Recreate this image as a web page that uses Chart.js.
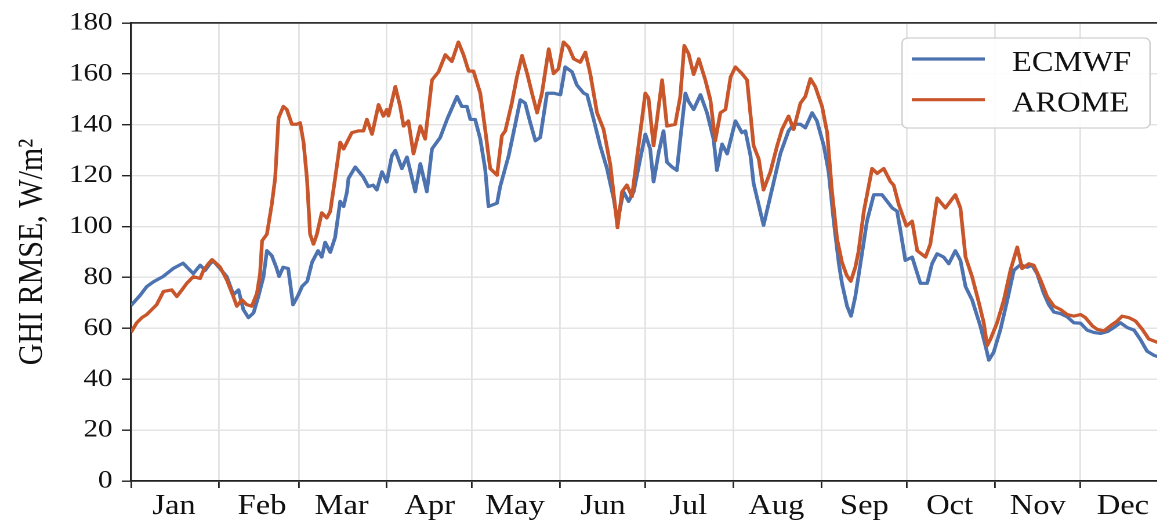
<!DOCTYPE html>
<html>
<head>
<meta charset="utf-8">
<script src="https://cdn.jsdelivr.net/npm/chart.js@4.4.1/dist/chart.umd.min.js"></script>
<style>
  html, body { margin: 0; padding: 0; background: #fff; overflow: hidden; width: 1157px; height: 521px; }
  #wrap { position: absolute; left: 0; top: 0; width: 1007px; height: 521px; transform: scaleX(1.16); transform-origin: 0 0; }
</style>
</head>
<body>
<div id="wrap"><canvas id="chart" width="1007" height="521"></canvas></div>
<script>
// Month tick labels and the day-of-year where each month starts
const months = ['Jan', 'Feb', 'Mar', 'Apr', 'May', 'Jun', 'Jul', 'Aug', 'Sep', 'Oct', 'Nov', 'Dec'];
const monthStartDays = [0, 31, 59, 90, 120, 151, 181, 212, 243, 273, 304, 334];

// Y axis ticks
const yTicks = [0, 20, 40, 60, 80, 100, 120, 140, 160, 180];

// ECMWF: day of year and GHI RMSE (W/m²)
const ecmwfDays = [
  0, 3.2, 5.5, 7.9, 11.3, 14.8, 18.3, 21.9, 24.3, 26.1,
  27.8, 28.9, 31.3, 33.7, 36.0, 37.8, 39.5, 41.3, 43.1, 44.8,
  46.6, 47.8, 49.5, 51.1, 52.1, 53.5, 55.3, 57.0, 58.8, 60.2,
  62.0, 63.7, 65.8, 67.1, 68.3, 70.1, 71.8, 73.6, 74.8, 76.0,
  76.5, 78.9, 79.9, 81.7, 83.5, 85.2, 86.5, 88.3, 90.0, 91.8,
  93.0, 95.3, 97.1, 100.0, 101.8, 104.1, 105.9, 108.8, 111.2, 114.7,
  116.4, 118.2, 119.4, 121.1, 122.9, 124.6, 125.8, 128.8, 129.9, 132.9,
  134.6, 137.0, 138.7, 140.5, 142.3, 144.0, 146.4, 148.7, 151.1, 152.8,
  155.2, 156.9, 159.3, 160.5, 162.8, 165.1, 167.5, 169.8, 171.2, 173.3,
  175.1, 176.9, 179.2, 181.0, 182.7, 183.9, 185.7, 187.4, 188.6, 190.4,
  192.1, 193.3, 195.1, 196.2, 198.0, 200.4, 202.7, 205.0, 206.2, 208.0,
  209.8, 212.7, 215.0, 216.2, 218.0, 219.1, 222.6, 226.2, 228.5, 231.4,
  233.2, 235.6, 237.3, 239.7, 241.4, 243.8, 245.5, 247.3, 249.1, 250.2,
  252.0, 253.4, 254.9, 256.7, 259.0, 261.4, 264.3, 267.9, 269.6, 270.8,
  272.5, 274.9, 277.8, 280.2, 281.9, 283.7, 286.0, 287.8, 290.1, 291.9,
  293.7, 296.0, 298.9, 300.7, 301.9, 303.6, 306.0, 308.3, 310.7, 313.0,
  315.4, 317.1, 318.9, 321.2, 323.0, 324.8, 327.1, 329.5, 331.8, 334.2,
  336.5, 338.8, 341.2, 343.6, 345.9, 348.2, 350.6, 353.0, 355.3, 357.6,
  360.0, 362.3
];
const ecmwfRmse = [
  69, 73, 76.4, 78.3, 80.4, 83.5, 85.6, 81.5, 84.8, 82.8,
  85.4, 86.5, 83.5, 80.3, 73.2, 75.1, 67.4, 64.2, 66.1, 72.5,
  80.3, 90.5, 88.6, 84, 80.4, 84, 83.5, 69.3, 73, 76.5,
  78.5, 86, 90.5, 88, 93.8, 89.9, 95.7, 109.9, 107.9, 113.7,
  118.9, 123.4, 122, 119.5, 115.7, 116.3, 114.4, 121.5, 117.5, 127.9,
  129.9, 122.8, 127.3, 113.7, 124.7, 113.7, 130.5, 135, 142.1, 151.1,
  147.2, 147.2, 142.1, 142.1, 134.4, 122.8, 107.9, 109.2, 115.7, 127.9,
  136.9, 149.8, 148.5, 140.8, 133.7, 135, 152.4, 152.4, 151.8, 162.7,
  160.8, 155.6, 152.4, 151.8, 142.1, 131.8, 122.8, 111.2, 102.1, 113.7,
  109.9, 113.7, 126.6, 136.3, 130.5, 117.6, 129.2, 137.6, 125.3, 123.4,
  122.1, 134.4, 152.4, 149.2, 146, 151.8, 144.7, 134.4, 122.1, 132.4,
  128.6, 141.5, 136.9, 137.6, 127.9, 117, 100.5, 117.6, 128.6, 137.6,
  140.2, 140.2, 138.8, 144.7, 141.5, 131.8, 121.5, 102.1, 85.4, 77.7,
  68.7, 64.8, 72.5, 85.4, 102.1, 112.5, 112.5, 107.3, 106, 98.3,
  86.7, 88, 77.7, 77.7, 85.4, 89.3, 88, 85.4, 90.5, 86.7,
  76.4, 71.2, 60.9, 53.2, 47.5, 50.6, 59.6, 70.6, 82.8, 85,
  84, 84.8, 81.5, 73.8, 69.3, 66.4, 65.8, 64.5, 62.2, 62,
  59.3, 58.4, 58, 58.7, 60.3, 62.2, 60.3, 59.3, 55.5, 51,
  49.4, 48.5
];

// AROME: day of year and GHI RMSE (W/m²)
const aromeDays = [
  0, 2.0, 3.8, 5.5, 7.3, 9.0, 11.4, 14.3, 16.1, 17.9,
  19.6, 21.9, 24.3, 25.5, 27.2, 28.5, 31.3, 33.7, 36.0, 37.2,
  39.0, 40.7, 42.5, 44.3, 45.4, 46.1, 47.8, 49.5, 50.7, 51.9,
  53.6, 54.8, 56.6, 58.3, 59.5, 60.7, 61.9, 63.0, 64.2, 65.4,
  67.1, 68.9, 70.1, 71.8, 73.6, 74.8, 77.7, 80.0, 81.8, 83.0,
  84.8, 87.1, 88.8, 90.0, 90.6, 93.0, 94.7, 95.9, 97.6, 99.4,
  101.8, 103.5, 105.9, 108.2, 110.6, 112.9, 115.2, 117.0, 118.8, 120.5,
  122.9, 124.6, 126.4, 128.8, 130.5, 131.7, 134.0, 135.8, 137.6, 139.4,
  141.1, 142.9, 144.6, 147.0, 148.7, 150.4, 152.2, 154.0, 155.8, 158.1,
  159.9, 161.6, 164.0, 166.3, 168.7, 171.2, 172.8, 174.5, 176.3, 178.6,
  181.0, 182.1, 183.9, 186.9, 188.6, 191.5, 193.3, 194.7, 196.2, 198.0,
  199.8, 202.1, 203.9, 205.6, 207.4, 209.2, 211.0, 212.7, 215.0, 216.8,
  219.1, 220.9, 222.6, 225.0, 227.4, 229.1, 231.4, 233.2, 235.6, 237.3,
  239.1, 240.8, 243.2, 245.0, 246.7, 248.5, 250.2, 251.8, 253.3, 254.9,
  256.0, 257.9, 260.8, 262.6, 264.9, 267.3, 268.4, 270.2, 272.9, 274.9,
  276.7, 279.6, 281.3, 283.7, 286.6, 290.1, 291.9, 293.7, 296.0, 298.4,
  300.1, 301.3, 302.5, 304.8, 307.2, 309.5, 311.9, 313.6, 316.0, 317.7,
  320.1, 322.4, 324.8, 327.1, 329.5, 331.8, 334.2, 335.9, 338.3, 340.0,
  342.4, 344.7, 347.1, 348.8, 351.2, 353.5, 355.9, 358.2, 361.2, 363.0
];
const aromeRmse = [
  58.5, 62.2, 64.2, 65.4, 67.4, 69.3, 74.5, 75.1, 72.5, 75.1,
  77.7, 80.3, 79.6, 82.8, 85.4, 87, 84.1, 79, 72.5, 68.7,
  71.2, 69.3, 68.7, 73.8, 81.5, 94.4, 97, 108.6, 118.9, 142.7,
  147.2, 146, 140.2, 140.2, 140.8, 133.1, 118.9, 97, 93.1, 97,
  105.4, 103.4, 106, 118.9, 133.1, 130.5, 136.9, 137.6, 137.6, 142.1,
  136.3, 147.9, 143.4, 146, 143.5, 155, 147.2, 139.5, 141.5, 128.6,
  139.5, 134.4, 157.6, 160.8, 167.5, 164.9, 172.5, 167.5, 161.1, 161.1,
  152.4, 138.3, 122.8, 120.2, 135.7, 137.6, 148.5, 158.8, 167.2, 160.1,
  152.4, 144.7, 152.4, 169.8, 160.1, 162, 172.5, 170.5, 165.9, 164.6,
  168.5, 160.1, 144.7, 138.2, 124.1, 99.6, 113.7, 116.3, 111.8, 131.8,
  152.4, 150.5, 131.8, 157.6, 139.5, 140.2, 151.1, 171.1, 168, 159.8,
  165.9, 157.6, 149.8, 133.7, 144.7, 146, 158.8, 162.7, 160.1, 157.6,
  131.8, 126.6, 114.4, 121.5, 131.8, 138.2, 143.4, 138.2, 148.5, 151.1,
  158.1, 155, 147.2, 136.9, 113.7, 95, 86, 81, 78.5, 84,
  90, 106, 122.8, 120.9, 122.8, 117.6, 116.3, 108.6, 100.2, 102.1,
  90.5, 88, 93.1, 111.2, 107.3, 112.5, 107.3, 88, 80.3, 70,
  62.2, 53.2, 55.8, 62.2, 71.2, 82.8, 91.9, 83.5, 85.4, 84.8,
  79, 72.5, 68.7, 67.4, 65.4, 64.8, 65.4, 64.2, 61, 59.6,
  59, 61, 62.9, 64.8, 64.2, 62.9, 59.6, 55.8, 54.5, 54
];

const toPoints = (days, vals) => days.map((d, i) => ({ x: d, y: vals[i] }));

const SERIF = "'Liberation Serif', 'Times New Roman', serif";
const GRID = '#e2e2e2';
const AXIS = '#222222';
const TEXT = '#111111';

// Framed legend in the upper right of the plot
const boxLegend = {
  id: 'boxLegend',
  afterDraw(chart) {
    const { ctx, chartArea } = chart;
    const x0 = chartArea.right - 229.4, y0 = chartArea.top + 15;
    const w = 213.8, h = 90;
    ctx.save();
    ctx.beginPath();
    ctx.roundRect(x0, y0, w, h, 5);
    ctx.fillStyle = 'rgba(255,255,255,0.9)';
    ctx.fill();
    ctx.lineWidth = 1.3;
    ctx.strokeStyle = '#d0d0d0';
    ctx.stroke();
    const rows = [21, 61.7];
    chart.data.datasets.forEach((ds, i) => {
      const yy = y0 + rows[i];
      ctx.beginPath();
      ctx.moveTo(x0 + 8.4, yy);
      ctx.lineTo(x0 + 71.4, yy);
      ctx.strokeStyle = ds.borderColor;
      ctx.lineWidth = ds.borderWidth;
      ctx.stroke();
      ctx.fillStyle = TEXT;
      ctx.font = '28px ' + SERIF;
      ctx.textBaseline = 'alphabetic';
      ctx.textAlign = 'left';
      ctx.fillText(ds.label, x0 + 94.8, yy + 12);
    });
    ctx.restore();
  }
};

new Chart(document.getElementById('chart'), {
  type: 'line',
  data: {
    datasets: [
      {
        label: 'ECMWF',
        data: toPoints(ecmwfDays, ecmwfRmse),
        borderColor: '#4C72B0',
        borderWidth: 3.2,
        pointRadius: 0,
        tension: 0,
        borderJoinStyle: 'round',
        order: 1
      },
      {
        label: 'AROME',
        data: toPoints(aromeDays, aromeRmse),
        borderColor: '#C8562A',
        borderWidth: 3.2,
        pointRadius: 0,
        tension: 0,
        borderJoinStyle: 'round',
        order: 0
      }
    ]
  },
  options: {
    responsive: false,
    animation: false,
    devicePixelRatio: 2,
    layout: { padding: { top: 15, left: 0, right: 0, bottom: 0 } },
    plugins: { legend: { display: false }, tooltip: { enabled: false } },
    scales: {
      x: {
        type: 'linear',
        position: 'bottom',
        min: 0,
        max: 365,
        afterBuildTicks: (s) => { s.ticks = monthStartDays.map(v => ({ value: v })); },
        afterFit: (s) => { s.height = 40; },
        ticks: {
          autoSkip: false,
          maxRotation: 0,
          minRotation: 0,
          labelOffset: 37,
          padding: 2,
          color: TEXT,
          font: { family: SERIF, size: 28 },
          callback: (v) => months[monthStartDays.indexOf(v)]
        },
        grid: { color: GRID, lineWidth: 1.4, tickLength: 7, tickColor: AXIS, tickWidth: 1.4 },
        border: { color: AXIS, width: 1.7 }
      },
      xTop: {
        type: 'linear',
        position: 'top',
        min: 0,
        max: 365,
        afterFit: (s) => { s.height = 0; },
        ticks: { display: false },
        grid: { display: false },
        border: { display: true, color: '#333333', width: 1.7 }
      },
      y: {
        min: 0,
        max: 180,
        afterBuildTicks: (s) => { s.ticks = yTicks.map(v => ({ value: v })); },
        afterFit: (s) => { s.width = 113; },
        ticks: {
          padding: 8,
          color: TEXT,
          font: { family: SERIF, size: 25 }
        },
        grid: { color: GRID, lineWidth: 1.4, tickLength: 8, tickColor: AXIS, tickWidth: 1.4 },
        border: { color: AXIS, width: 1.7 },
        title: {
          display: true,
          text: 'GHI RMSE, W/m²',
          color: TEXT,
          font: { family: SERIF, size: 30 },
          padding: { top: 10, bottom: 0 }
        }
      }
    }
  },
  plugins: [boxLegend]
});
</script>
</body>
</html>
